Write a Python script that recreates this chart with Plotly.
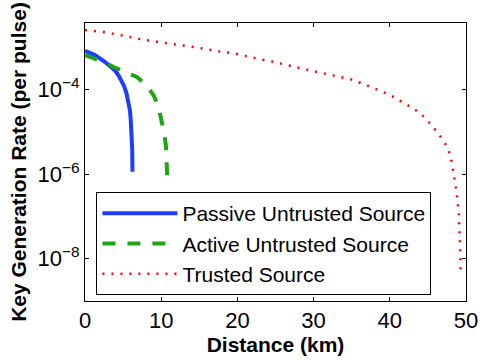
import plotly.graph_objects as go

# distance (km) and key generation rate (per pulse)
passive_km = [0, 0.65, 1.3, 2.6, 3.3, 3.9, 4.4, 4.8, 5.15, 5.45, 5.7, 5.9, 6.0, 6.1, 6.16, 6.2, 6.23]
passive_rate = [8.3e-4, 7.6e-4, 6.6e-4, 4.6e-4, 3.7e-4, 2.9e-4, 2.2e-4, 1.66e-4, 1.2e-4, 8.1e-5,
                5.2e-5, 3.2e-5, 2.0e-5, 1.1e-5, 6.3e-6, 3.7e-6, 1.15e-6]

active_km = [0, 1.3, 2.5, 3.7, 5.2, 6.8, 8.0, 9.0, 9.6, 10.06, 10.4, 10.63, 10.72, 10.78]
active_rate = [6.6e-4, 5.5e-4, 4.5e-4, 3.5e-4, 2.7e-4, 2.0e-4, 1.32e-4, 7.4e-5, 4.2e-5, 1.9e-5,
               9.5e-6, 4.5e-6, 2.2e-6, 9.5e-7]

trusted_km = [0, 2.5, 5, 7.5, 10, 12.5, 15, 17.5, 20, 22.5, 25, 27.5, 30, 32.5, 35, 37.5, 40,
              42, 44, 45.5, 46.5, 47.5, 48, 48.4, 48.8, 49.05, 49.2, 49.25, 49.3]
trusted_rate = [2.6e-3, 2.32e-3, 1.905e-3, 1.55e-3, 1.32e-3, 1.15e-3, 9.77e-4, 8.13e-4, 7.0e-4,
                5.5e-4, 4.47e-4, 3.47e-4, 2.79e-4, 2.24e-4, 1.74e-4, 1.17e-4, 7.6e-5, 4.7e-5,
                2.8e-5, 1.45e-5, 8.5e-6, 4.6e-6, 2.6e-6, 1.0e-6, 3.3e-7, 1.17e-7, 4.0e-8,
                1.4e-8, 5.0e-9]

y_ticks = [1e-4, 1e-6, 1e-8]
y_tick_text = ["10<sup>−4</sup>", "10<sup>−6</sup>", "10<sup>−8</sup>"]

font = "Liberation Sans, Arial, sans-serif"

fig = go.Figure()
fig.add_trace(go.Scatter(x=passive_km, y=passive_rate, mode="lines",
                         name="Passive Untrusted Source",
                         line={"color": "#1f3cff", "width": 4}))
fig.add_trace(go.Scatter(x=active_km, y=active_rate, mode="lines",
                         name="Active Untrusted Source",
                         line={"color": "#1fa514", "width": 4, "dash": "13px,12px"}))
fig.add_trace(go.Scatter(x=trusted_km, y=trusted_rate, mode="lines",
                         name="Trusted Source",
                         line={"color": "#ff0000", "width": 2.5, "dash": "2px,7px"}))

axis_common = {
    "automargin": False,
    "showgrid": False,
    "zeroline": False,
    "showline": True,
    "linecolor": "black",
    "linewidth": 1,
    "mirror": "allticks",
    "ticks": "inside",
    "ticklen": 4,
    "tickcolor": "black",
    "tickfont": {"family": font, "size": 22, "color": "black"},
}

fig.update_layout(
    template="none",
    width=491,
    height=361,
    margin={"l": 85, "r": 25, "t": 23, "b": 60},
    paper_bgcolor="white",
    plot_bgcolor="white",
    font={"family": font, "size": 21, "color": "black"},
    xaxis={
        **axis_common,
        "range": [0, 50],
        "tickvals": [0, 10, 20, 30, 40, 50],
        "ticklabelstandoff": 0,
        "title": {"text": "<b>Distance (km)</b>", "font": {"family": font, "size": 21},
                  "standoff": 4},
    },
    yaxis={
        **axis_common,
        "type": "log",
        "range": [-9.0, -2.42],
        "tickvals": y_ticks,
        "ticktext": y_tick_text,
        "title": {"text": "<b>Key Generation Rate (per pulse)</b>",
                  "font": {"family": font, "size": 21}, "standoff": 5},
    },
    legend={
        "x": 0.03,
        "y": 0.392,
        "xanchor": "left",
        "yanchor": "top",
        "bgcolor": "white",
        "bordercolor": "black",
        "borderwidth": 1,
        "itemwidth": 75,
        "font": {"family": font, "size": 21},
    },
    showlegend=True,
)

# the browser's default 8px body margin would shift the whole figure
fig.write_html("out.html", config={"displayModeBar": False},
               post_script="document.body.style.margin = '0';")
